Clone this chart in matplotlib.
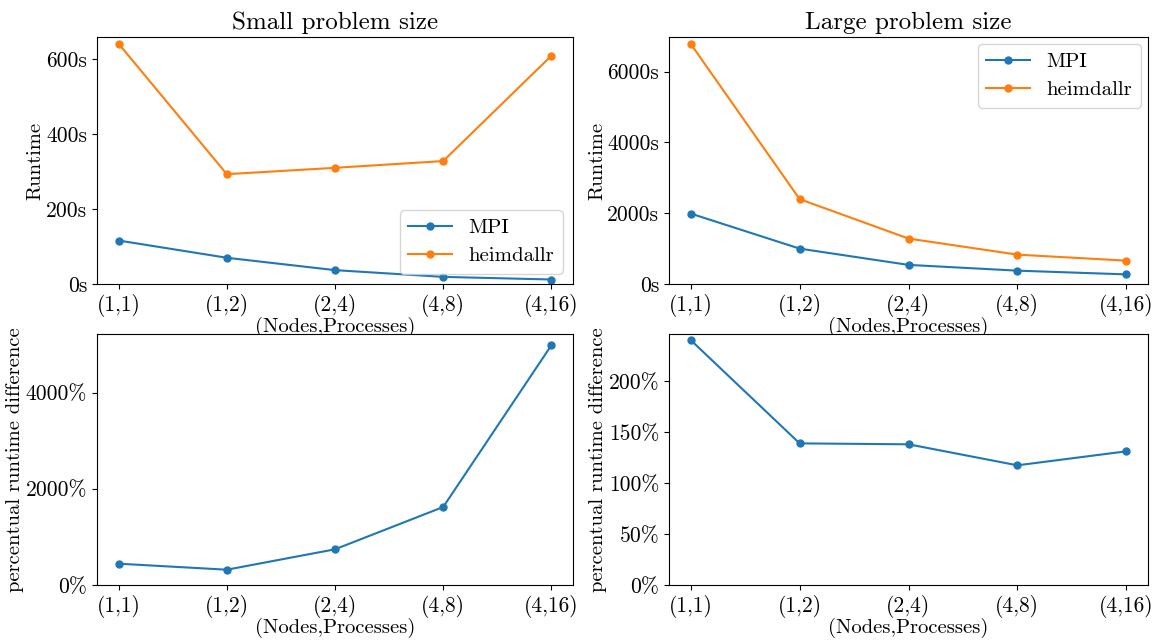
import matplotlib
matplotlib.use("Agg")
import matplotlib.pyplot as plt
from matplotlib.ticker import FuncFormatter, MultipleLocator

plt.rcParams['font.family'] = ['cmr10', 'DejaVu Serif']
plt.rcParams['mathtext.fontset'] = 'cm'
plt.rcParams['axes.unicode_minus'] = False

configs = ["(1,1)", "(1,2)", "(2,4)", "(4,8)", "(4,16)"]

small_mpi = [116, 70, 37, 19, 12]
small_heim = [641, 293, 310, 328, 609]
large_mpi = [1990, 1000, 540, 377, 272]
large_heim = [6783, 2398, 1284, 830, 660]
small_diff = [443, 318, 742, 1621, 4982]
large_diff = [240, 138.8, 137.9, 117.3, 131]

fig = plt.figure(figsize=(11.55, 6.41), dpi=100)
W, H = 1155, 641
def box(l, r, t, b):
    return [l / W, 1 - b / H, (r - l) / W, (b - t) / H]

ax1 = fig.add_axes(box(97, 573, 37, 284))
ax2 = fig.add_axes(box(669, 1148, 37, 284))
ax3 = fig.add_axes(box(97, 573, 334, 585))
ax4 = fig.add_axes(box(669, 1148, 334, 585))

x = list(range(len(configs)))
TFS = 15.5
LFS = 14.8
GFS = 15

def style(ax, ylabel):
    ax.set_xticks(x)
    ax.set_xticklabels(configs)
    ax.tick_params(labelsize=TFS)
    ax.set_xlabel("(Nodes,Processes)", fontsize=LFS, labelpad=0)
    ax.set_ylabel(ylabel, fontsize=LFS, labelpad=1)

sfmt = FuncFormatter(lambda v, p: f"{v:.0f}s")
pfmt = FuncFormatter(lambda v, p: f"{v:.0f}%")

leg_kw = dict(fontsize=GFS, handlelength=2.1, labelspacing=0.45)

ax1.plot(x, small_mpi, marker='o', markersize=5, label="MPI")
ax1.plot(x, small_heim, marker='o', markersize=5, label="heimdallr")
ax1.set_ylim(0, 659)
ax1.yaxis.set_major_locator(MultipleLocator(200))
ax1.yaxis.set_major_formatter(sfmt)
style(ax1, "Runtime")
ax1.set_title("Small problem size", fontsize=18, pad=6)
ax1.legend(loc="lower right", **leg_kw)

ax2.plot(x, large_mpi, marker='o', markersize=5, label="MPI")
ax2.plot(x, large_heim, marker='o', markersize=5, label="heimdallr")
ax2.set_ylim(0, 6980)
ax2.yaxis.set_major_locator(MultipleLocator(2000))
ax2.yaxis.set_major_formatter(sfmt)
style(ax2, "Runtime")
ax2.set_title("Large problem size", fontsize=18, pad=6)
ax2.legend(loc="upper right", borderaxespad=0.35, **leg_kw)

ax3.plot(x, small_diff, marker='o', markersize=5)
ax3.set_ylim(0, 5217)
ax3.yaxis.set_major_locator(MultipleLocator(2000))
ax3.yaxis.set_major_formatter(pfmt)
style(ax3, "percentual runtime difference")

ax4.plot(x, large_diff, marker='o', markersize=5)
ax4.set_ylim(0, 246)
ax4.yaxis.set_major_locator(MultipleLocator(50))
ax4.yaxis.set_major_formatter(pfmt)
style(ax4, "percentual runtime difference")

fig.savefig("out.png", dpi=100)
